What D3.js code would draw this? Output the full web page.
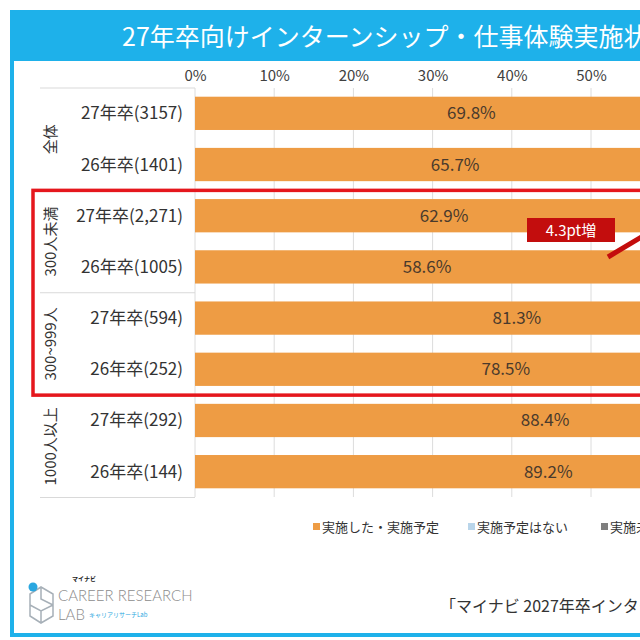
<!DOCTYPE html>
<html>
<head>
<meta charset="utf-8">
<script src="https://cdn.jsdelivr.net/npm/d3@7"></script>
<style>
  body { margin: 0; background: #fff; }
  svg { display: block; font-family: "Noto Sans CJK JP", "Noto Sans", sans-serif; }
</style>
</head>
<body>
<svg id="graphic-svg" width="640" height="640"></svg>
<script>
////////////////////////////////////////////////////////////////////////////////////
// Data
var title = "27年卒向けインターンシップ・仕事体験実施状況";
var groupLabels = ["全体", "300人未満", "300~999人", "1000人以上"];
var rowLabels = ["27年卒(3157)", "26年卒(1401)", "27年卒(2,271)", "26年卒(1005)",
                 "27年卒(594)", "26年卒(252)", "27年卒(292)", "26年卒(144)"];
var implemented = [69.8, 65.7, 62.9, 58.6, 81.3, 78.5, 88.4, 89.2]; // 実施した・実施予定
var tickValues = [0, 10, 20, 30, 40, 50]; // visible part of the 0-100% axis
var legendLabels = ["実施した・実施予定", "実施予定はない", "実施未定"];
var annotation = "4.3pt増";
var source = "「マイナビ 2027年卒インターンシップ・仕事体験に関する企業調査」";

// Colors
var frameBlue = "#1eb1ea";
var orange = "#ee9c44";
var lightBlue = "#b9d5ea";
var gray = "#7f7f7f";
var red = "#e5171d";
var darkRed = "#c30d0d";

var svg = d3.select("#graphic-svg");

// Scales
var xScale = d3.scaleLinear()
               .domain([0, 100])
               .range([195, 987]);
var yScale = d3.scaleBand()
               .domain(d3.range(rowLabels.length))
               .range([88, 497])
               .paddingInner(0.35)
               .paddingOuter(0.17);
var step = yScale.step();

////////////////////////////////////////////////////////////////////////////////////
// Frame + title band
svg.append("rect")
   .attr("x", 12).attr("y", 12)
   .attr("width", 900).attr("height", 623)
   .attr("fill", "#fff")
   .attr("stroke", frameBlue)
   .attr("stroke-width", 4);
svg.append("rect")
   .attr("x", 10).attr("y", 10)
   .attr("width", 900).attr("height", 51)
   .attr("fill", frameBlue);
svg.append("text")
   .attr("x", 122)
   .attr("y", 46)
   .attr("fill", "#fff")
   .style("font-size", "25px")
   .text(title);

// Gridlines
svg.selectAll(".grid")
   .data(tickValues)
   .enter()
   .append("line")
   .attr("class", "grid")
   .attr("x1", function(d) { return xScale(d); })
   .attr("x2", function(d) { return xScale(d); })
   .attr("y1", 88)
   .attr("y2", 497)
   .attr("stroke", "#dcdcdc")
   .attr("stroke-width", 1);

// Top axis
var xAxis = d3.axisTop(xScale)
              .tickValues(tickValues)
              .tickSize(0)
              .tickPadding(0)
              .tickFormat(function(d) { return d + "%"; });
var axisG = svg.append("g")
               .attr("transform", "translate(0,81)")
               .call(xAxis);
axisG.select(".domain").remove();
axisG.selectAll("text")
     .attr("fill", "#404040")
     .style("font-family", "\"Noto Sans CJK JP\", sans-serif")
     .style("font-size", "15px");

// Separators in label column
var sepRows = [0, 2, 4, 6, 8];
svg.selectAll(".sep")
   .data(sepRows)
   .enter()
   .append("line")
   .attr("class", "sep")
   .attr("x1", 40)
   .attr("x2", 195)
   .attr("y1", function(d) { return 88 + d * step; })
   .attr("y2", function(d) { return 88 + d * step; })
   .attr("stroke", "#d9d9d9");

// Bars
svg.selectAll(".bar")
   .data(implemented)
   .enter()
   .append("rect")
   .attr("class", "bar")
   .attr("x", xScale(0))
   .attr("y", function(d, i) { return yScale(i); })
   .attr("width", function(d) { return xScale(d) - xScale(0); })
   .attr("height", yScale.bandwidth())
   .attr("fill", orange);

// Value labels
svg.selectAll(".val")
   .data(implemented)
   .enter()
   .append("text")
   .attr("class", "val")
   .attr("x", function(d) { return xScale(d / 2); })
   .attr("y", function(d, i) { return yScale(i) + yScale.bandwidth() / 2 + 6; })
   .attr("text-anchor", "middle")
   .attr("fill", "#4a3a2c")
   .style("font-size", "17px")
   .text(function(d) { return d.toFixed(1) + "%"; });

// Row labels
svg.selectAll(".rowLabel")
   .data(rowLabels)
   .enter()
   .append("text")
   .attr("class", "rowLabel")
   .attr("x", 183)
   .attr("y", function(d, i) { return yScale(i) + yScale.bandwidth() / 2 + 6; })
   .attr("text-anchor", "end")
   .attr("fill", "#333")
   .style("font-size", "17px")
   .text(function(d) { return d; });

// Group labels (rotated)
svg.selectAll(".groupLabel")
   .data(groupLabels)
   .enter()
   .append("text")
   .attr("class", "groupLabel")
   .attr("transform", function(d, i) {
     var cy = 88 + (i * 2 + 1) * step;
     return "translate(56," + cy + ") rotate(-90)";
   })
   .attr("text-anchor", "middle")
   .attr("fill", "#333")
   .style("font-size", "15px")
   .text(function(d) { return d; });

// Red highlight box (300人未満 + 300~999人)
svg.append("rect")
   .attr("x", 33)
   .attr("y", 88 + 2 * step)
   .attr("width", 900)
   .attr("height", 4 * step)
   .attr("fill", "none")
   .attr("stroke", red)
   .attr("stroke-width", 3.5);

// Annotation
svg.append("line")
   .attr("x1", 608).attr("y1", 257)
   .attr("x2", 670).attr("y2", 220)
   .attr("stroke", darkRed)
   .attr("stroke-width", 5);
svg.append("rect")
   .attr("x", 527).attr("y", 218)
   .attr("width", 88).attr("height", 24)
   .attr("fill", darkRed);
svg.append("text")
   .attr("x", 571).attr("y", 236)
   .attr("text-anchor", "middle")
   .attr("fill", "#fff")
   .style("font-size", "15px")
   .text(annotation);

// Legend
var legendX = [313, 468, 601];
var legendColors = [orange, lightBlue, gray];
var legend = svg.selectAll(".legend")
                .data(legendLabels)
                .enter()
                .append("g")
                .attr("class", "legend")
                .attr("transform", function(d, i) { return "translate(" + legendX[i] + ",527)"; });
legend.append("rect")
      .attr("x", 0).attr("y", -4)
      .attr("width", 7).attr("height", 7)
      .attr("fill", function(d, i) { return legendColors[i]; });
legend.append("text")
      .attr("x", 9).attr("y", 5)
      .attr("fill", "#333")
      .style("font-size", "13px")
      .text(function(d) { return d; });

// Logo
var logo = svg.append("g");
logo.append("path")
    .attr("d", "M30,594 L30,616 L41,623 L53,616 L53,594 L41,587 Z M30,605 L41,611 L53,605 M41,611 L41,623 M41,587 L41,599 L53,605")
    .attr("fill", "none")
    .attr("stroke", "#a7b0b8")
    .attr("stroke-width", 1.5);
logo.append("circle")
    .attr("cx", 33).attr("cy", 587).attr("r", 4.5)
    .attr("fill", "#2aa7e0");
logo.append("text")
    .attr("x", 72).attr("y", 581)
    .attr("fill", "#222")
    .style("font-size", "6px")
    .style("font-weight", "bold")
    .text("マイナビ");
logo.append("text")
    .attr("x", 58).attr("y", 601)
    .attr("fill", "#8c8c8c")
    .style("font-family", "Lato, sans-serif")
    .style("font-size", "15px")
    .style("font-weight", "300")
    .text("CAREER RESEARCH");
logo.append("text")
    .attr("x", 58).attr("y", 620)
    .attr("fill", "#8c8c8c")
    .style("font-family", "Lato, sans-serif")
    .style("font-size", "15px")
    .style("font-weight", "300")
    .text("LAB");
logo.append("text")
    .attr("x", 89).attr("y", 617)
    .attr("fill", "#2aa7e0")
    .style("font-size", "6px")
    .text("キャリアリサーチLab");

// Source
svg.append("text")
   .attr("x", 440)
   .attr("y", 612)
   .attr("fill", "#333")
   .style("font-size", "16px")
   .text(source);
</script>
</body>
</html>
